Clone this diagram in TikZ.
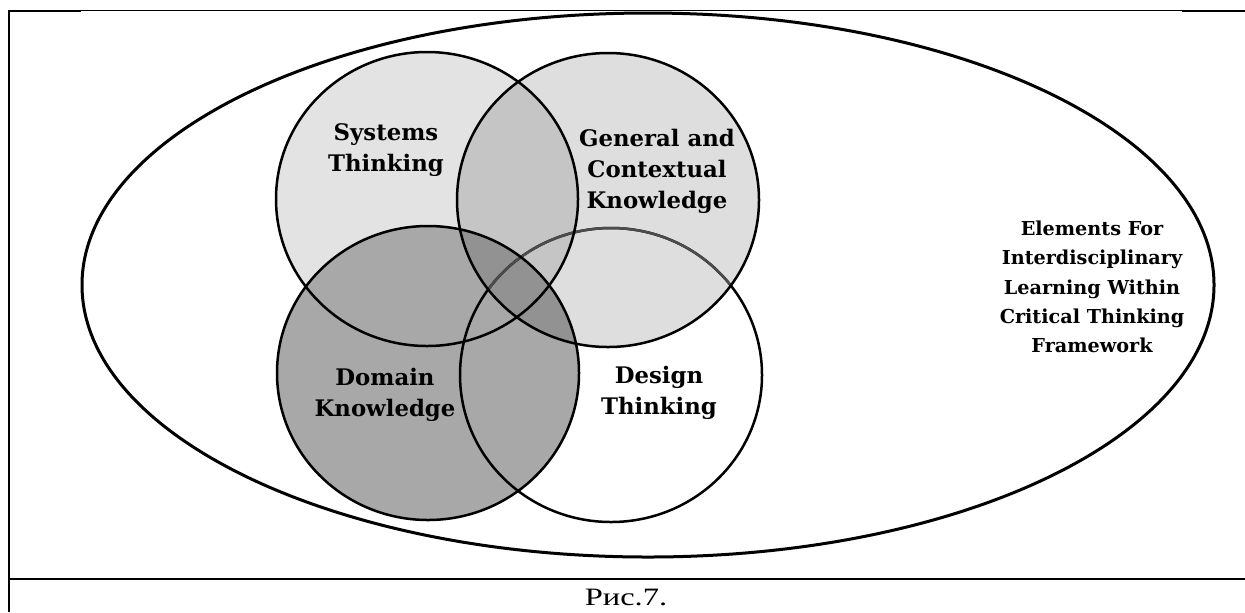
\documentclass[tikz,border=0pt]{standalone}
\usepackage{fontspec}
\setmainfont{Liberation Serif}
\newfontfamily\vennfont{DejaVu Serif}
\begin{document}
\begin{tikzpicture}[x=0.5pt,y=-0.5pt,
  ring/.style={line width=1.25pt},
  outer/.style={line width=1.5pt},
  rule/.style={line width=1pt},
  vlabel/.style={inner sep=0pt, align=center,
    font=\vennfont\bfseries\fontsize{11.4}{15.5}\selectfont},
  sidelabel/.style={inner sep=0pt, align=center,
    font=\vennfont\bfseries\fontsize{9.6}{14.6}\selectfont},
  caption/.style={inner sep=0pt, xscale=1.3, font=\fontsize{12.5}{14}\selectfont}]
\useasboundingbox (0,0) rectangle (1245,612);

% centres of the four sets and of the enclosing ellipse
\coordinate (sysC) at (427,199);
\coordinate (genC) at (608,200);
\coordinate (domC) at (428,373);
\coordinate (desC) at (611,375);
\coordinate (allC) at (648,285);

% page frame
\draw[line width=0.5pt] (8,10.5) -- (1245,10.5);
\draw[rule] (8,11) -- (81,11);
\draw[rule] (1182,11) -- (1245,11);
\draw[line width=0.9pt] (9,10) -- (9,612);
\draw[rule] (8,579) -- (1245,579);

% enclosing ellipse
\draw[outer] (allC) ellipse [x radius=566, y radius=272];

% fills
\fill[black!11] (sysC) ellipse [x radius=151, y radius=147];
\fill[black!34] (domC) ellipse [x radius=151, y radius=147];
\draw[ring] (desC) ellipse [x radius=151, y radius=147];
\fill[black, opacity=0.13] (genC) ellipse [x radius=151, y radius=147];
\begin{scope}
  \clip (genC) ellipse [x radius=151, y radius=147];
  \draw[ring, black!70] (desC) ellipse [x radius=151, y radius=147];
\end{scope}

% outlines
\draw[ring] (sysC) ellipse [x radius=151, y radius=147];
\draw[ring] (domC) ellipse [x radius=151, y radius=147];
\draw[ring] (genC) ellipse [x radius=151, y radius=147];

% labels
\node[vlabel] (sys) at (386,150) {Systems\\Thinking};
\node[vlabel] (gen) at (657,171) {General and\\Contextual\\Knowledge};
\node[vlabel] (dom) at (385,395) {Domain\\Knowledge};
\node[vlabel] (des) at (659,393) {Design\\Thinking};
\node[sidelabel] (elem) at (1092,287)
  {Elements For\\Interdisciplinary\\Learning Within\\Critical Thinking\\Framework};

\node[caption] (cap) at (626,597) {Рис.7.};
\end{tikzpicture}
\end{document}
